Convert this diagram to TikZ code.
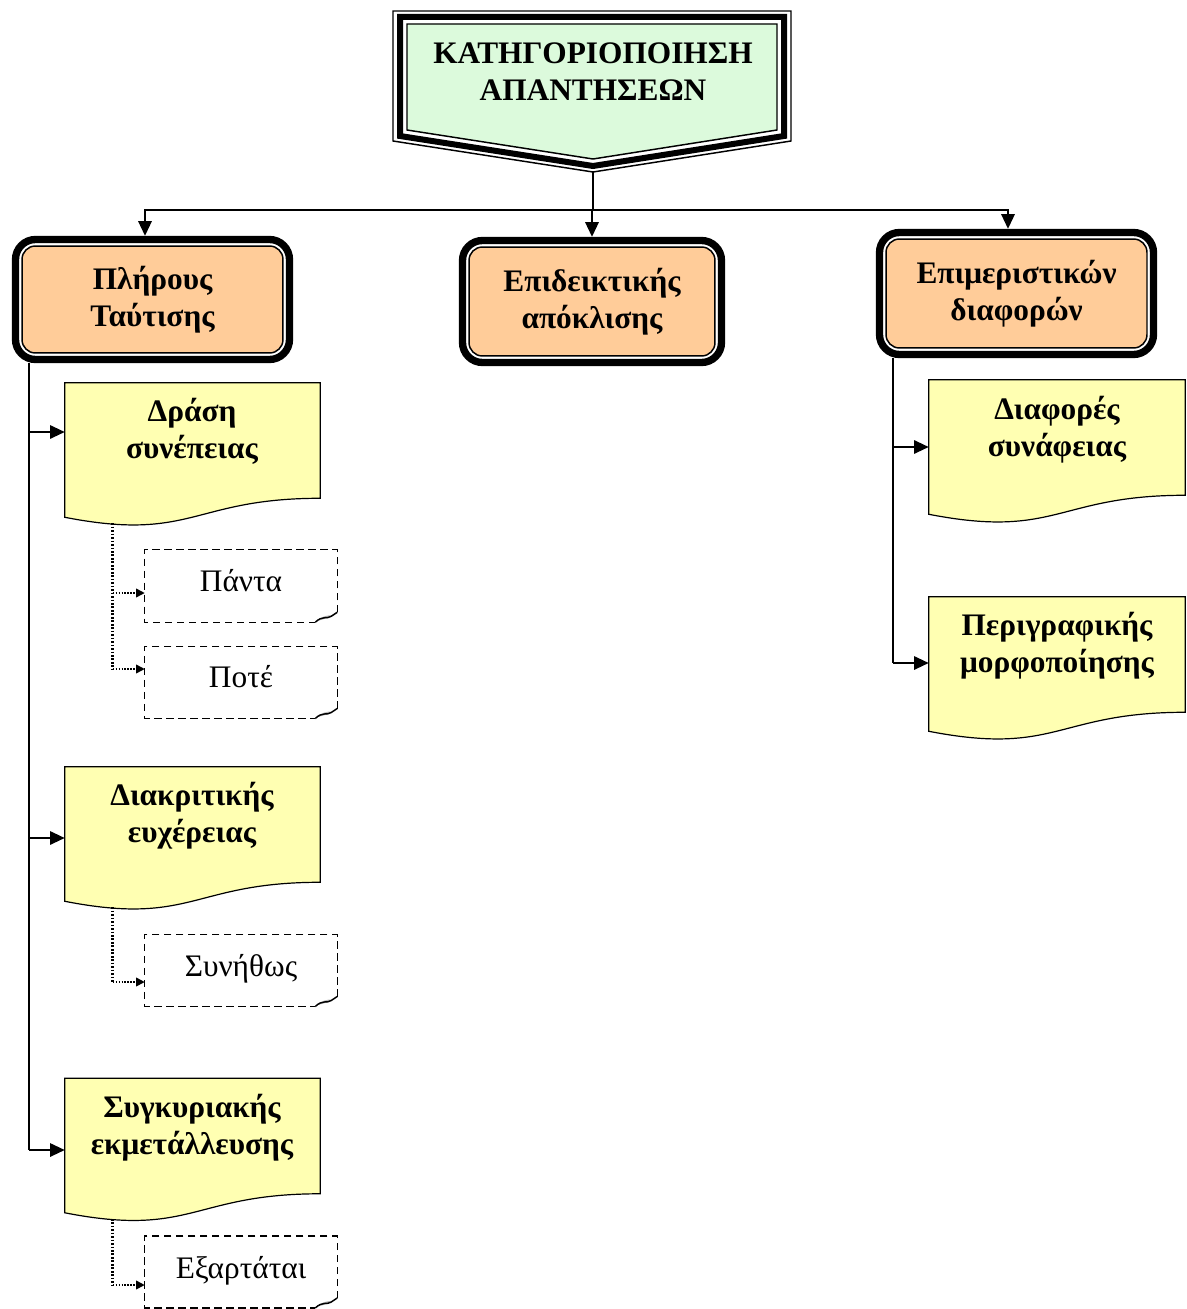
\documentclass[tikz,border=0pt]{standalone}
\usepackage{fontspec}
\setmainfont{Liberation Serif}
\usetikzlibrary{arrows.meta,calc}
\definecolor{gfill}{RGB}{220,250,220}
\definecolor{yfill}{RGB}{255,255,178}
\definecolor{ofill}{RGB}{255,204,153}
\newcommand\bigbold{\bfseries\fontsize{23.5}{27.75}\selectfont}
\newcommand\bigreg{\fontsize{23.5}{27.75}\selectfont}
\newcommand\docshape[1]{\draw[line width=0.9pt, fill=yfill] (#1.north west) -- (#1.north east) -- (#1.south east) .. controls (#1.south) and ($(#1.south)+(0,44)$) .. ($(#1.south west)+(0,19)$) -- cycle;}
\newcommand\pshape[1]{%
  \fill[gray!55] ($(#1.south east)+(-21,-1)$) .. controls ($(#1.south east)+(-16,-6)$) and ($(#1.south east)+(-10,-7)$) .. ($(#1.south east)+(-6,-7)$) -- ($(#1.south east)+(-10,-4)$) .. controls ($(#1.south east)+(-14,-3)$) .. cycle;
  \draw[line width=1.1pt, dash pattern=on 5.5pt off 3.5pt] ($(#1.south east)+(0,-10)$) -- (#1.north east) -- (#1.north west) -- (#1.south west) -- ($(#1.south east)+(-22,0)$);
  \draw[line width=1.1pt] ($(#1.south east)+(-22,0)$) .. controls ($(#1.south east)+(-15,-7)$) and ($(#1.south east)+(-10,-3)$) .. ($(#1.south east)+(-6,-6)$) -- ($(#1.south east)+(0,-10)$);}
\begin{document}
\begin{tikzpicture}[x=0.75pt,y=-0.75pt,
  conn/.style={line width=1.5pt},
  arr/.style={conn,-{Triangle[length=11pt,width=10pt]}},
  dotc/.style={line width=2pt, dash pattern=on 1.3pt off 1.3pt},
  dotarr/.style={line width=1.2pt, dash pattern=on 1.1pt off 1.1pt, -{Triangle[length=6.5pt,width=6.5pt]}},
  obox/.style={draw, line width=5.5pt, rounded corners=15pt, fill=white, inner sep=0pt,
    align=center, font=\bigbold, minimum width=205.5pt, minimum height=91.5pt,
    path picture={\draw[line width=1.1pt, fill=ofill, rounded corners=10pt]
      ([shift={(4.9pt,-4.9pt)}]path picture bounding box.north west) rectangle
      ([shift={(-4.9pt,4.9pt)}]path picture bounding box.south east);}},
  docnode/.style={inner sep=0pt, minimum width=191.25pt, minimum height=86.25pt},
  doctext/.style={align=center, font=\bigbold},
  pbox/.style={inner sep=0pt, minimum width=144pt, minimum height=53.6pt},
  ptext/.style={font=\bigreg}
]
\useasboundingbox (0,0) rectangle (1186,1309);

% banner
\draw[line width=1.1pt, line join=miter] (393,11) -- (791,11) -- (791,141) -- (593,172) -- (393,141) -- cycle;
\draw[line width=4.5pt, line join=miter] (400,17) -- (784,17) -- (784,136) -- (593,166) -- (400,136) -- cycle;
\draw[line width=1.1pt, fill=gfill] (407,24) -- (777,24) -- (777,130) -- (593,159) -- (407,130) -- cycle;
\node[align=center, font=\bigbold] (title) at (593,72) {ΚΑΤΗΓΟΡΙΟΠΟΙΗΣΗ\\ΑΠΑΝΤΗΣΕΩΝ};
\coordinate (tip) at (593,172);
\coordinate (j) at (593,210);

% orange boxes
\node[obox, minimum height=90pt] (b1) at (152.5,299.5) {Πλήρους\\Ταύτισης};
\node[obox, minimum width=194.25pt] (b2) at (592,301.5) {Επιδεικτικής\\απόκλισης};
\node[obox] (b3) at (1016.5,293.5) {Επιμεριστικών\\διαφορών};

\draw[conn] (tip) -- (j);
\draw[arr] (j) -| ($(b1.north)+(-7.5,0)$);
\draw[arr] (j) -| ($(b3.north)+(-8.5,0)$);
\draw[arr] (j) -- (j -| b2.north) -- (b2.north);

% documents
\node[docnode] (d1) at (192.5,440.5) {};
\node[docnode] (d2) at (192.5,824.5) {};
\node[docnode] (d3) at (192.5,1136) {};
\node[docnode, minimum width=192pt] (dr1) at (1057,437.5) {};
\node[docnode, minimum width=192pt] (dr2) at (1057,654.5) {};
\docshape{d1}\docshape{d2}\docshape{d3}\docshape{dr1}\docshape{dr2}
\node[doctext] (d1t) at (192,431.5) {Δράση\\συνέπειας};
\node[doctext] (d2t) at (192,816) {Διακριτικής\\ευχέρειας};
\node[doctext] (d3t) at (192,1128) {Συγκυριακής\\εκμετάλλευσης};
\node[doctext] (dr1t) at (1057,429.5) {Διαφορές\\συνάφειας};
\node[doctext] (dr2t) at (1057,646) {Περιγραφικής\\μορφοποίησης};

% dashed boxes
\node[pbox, minimum height=54pt] (p1) at (241,586) {};
\node[pbox] (p2) at (241,682.5) {};
\node[pbox] (p3) at (241,970.5) {};
\node[pbox] (p4) at (241,1272) {};
\pshape{p1}\pshape{p2}\pshape{p3}\pshape{p4}
\node[ptext] (p1t) at (241,581) {Πάντα};
\node[ptext] (p2t) at (241,677) {Ποτέ};
\node[ptext] (p3t) at (241,968.5) {Συνήθως};
\node[ptext] (p4t) at (241,1270.5) {Εξαρτάται};

% left trunk
\coordinate (L) at ($(b1.south west)+(17.5,0)$);
\coordinate (a1) at ($(d1.west)+(0,-8.5)$);
\coordinate (a2) at ($(d2.west)+(0,13.5)$);
\coordinate (a3) at ($(d3.west)+(0,14)$);
\draw[conn] (L) -- (L |- a3);
\draw[arr] (a1 -| L) -- (a1);
\draw[arr] (a2 -| L) -- (a2);
\draw[arr] (a3 -| L) -- (a3);

% right trunk
\coordinate (R) at ($(b3.south west)+(17.5,0)$);
\coordinate (r1) at ($(dr1.west)+(0,9.5)$);
\coordinate (r2) at ($(dr2.west)+(0,8.5)$);
\draw[conn] (R) -- (R |- r2);
\draw[arr] (r1 -| R) -- (r1);
\draw[arr] (r2 -| R) -- (r2);

% dotted connectors
\coordinate (s1) at ($(d1.south west)+(48,25)$);
\coordinate (s2) at ($(d2.south west)+(48,25)$);
\coordinate (s3) at ($(d3.south west)+(48,25)$);
\coordinate (q1) at ($(p1.west)+(0,7)$);
\coordinate (q2) at ($(p2.west)+(0,-13.5)$);
\coordinate (q3) at ($(p3.west)+(0,11.5)$);
\coordinate (q4) at ($(p4.west)+(0,13)$);
\draw[dotc] (s1) -- (s1 |- q2);
\draw[dotarr] (q1 -| s1) -- (q1);
\draw[dotarr] (q2 -| s1) -- (q2);
\draw[dotc] (s2) -- (s2 |- q3);
\draw[dotarr] (q3 -| s2) -- (q3);
\draw[dotc] (s3) -- (s3 |- q4);
\draw[dotarr] (q4 -| s3) -- (q4);
\end{tikzpicture}
\end{document}
